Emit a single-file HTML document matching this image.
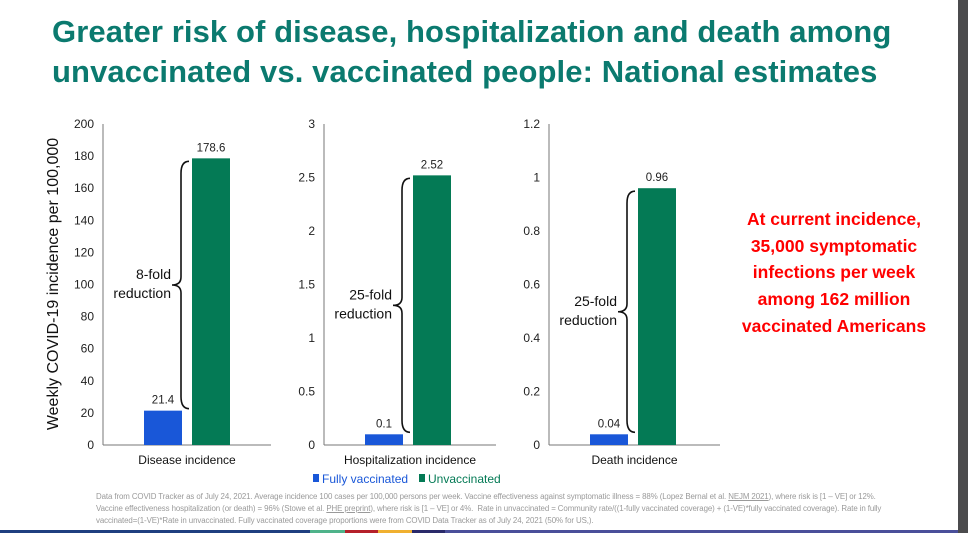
<!DOCTYPE html>
<html><head><meta charset="utf-8">
<style>
body{margin:0;background:#fff;}
#root{position:relative;width:968px;height:533px;overflow:hidden;background:#fff;font-family:"Liberation Sans",sans-serif;}
.title{position:absolute;left:52px;top:12px;color:#0b7a6f;font-weight:bold;font-size:31px;line-height:40px;letter-spacing:0.1px;}
.red{position:absolute;left:718px;top:206px;width:232px;text-align:center;color:#f00;font-weight:bold;font-size:17.5px;line-height:26.7px;}
.foot{position:absolute;left:96px;top:491px;width:800px;color:#9a9a9a;font-size:7.9px;line-height:12px;letter-spacing:-0.1px;}
.foot u{text-decoration:underline;}
</style></head><body>
<div id="root">
<div class="title">Greater risk of disease, hospitalization and death among<br>unvaccinated vs. vaccinated people: National estimates</div>
<div class="red">At current incidence,<br>35,000 symptomatic<br>infections per week<br>among 162 million<br>vaccinated Americans</div>
<svg id="chart" width="968" height="533" style="position:absolute;left:0;top:0"></svg>
<div class="foot">Data from COVID Tracker as of July 24, 2021. Average incidence 100 cases per 100,000 persons per week. Vaccine effectiveness against symptomatic illness = 88% (Lopez Bernal et al. <u>NEJM 2021</u>), where risk is [1 – VE] or 12%. Vaccine effectiveness hospitalization (or death) = 96% (Stowe et al. <u>PHE preprint</u>), where risk is [1 – VE] or 4%.&nbsp; Rate in unvaccinated = Community rate/((1-fully vaccinated coverage) + (1-VE)*fully vaccinated coverage). Rate in fully vaccinated=(1-VE)*Rate in unvaccinated. Fully vaccinated coverage proportions were from COVID Data Tracker as of July 24, 2021 (50% for US,).</div>
<div style="position:absolute;left:958px;top:0;width:10px;height:533px;background:#4b4b4d"></div>
<div style="position:absolute;left:0;top:530px;width:958px;height:3px;background:linear-gradient(to right,#1f3f80 0,#1f3f80 310px,#4fb38a 310px,#4fb38a 345px,#b5202a 345px,#b5202a 378px,#f0b030 378px,#f0b030 412px,#2a2a6a 412px,#2a2a6a 445px,#4a4f9a 445px)"></div>
</div>
<script>
const categories = ["Disease incidence","Hospitalization incidence","Death incidence"];
const vaccinated = [21.4, 0.1, 0.04];
const unvaccinated = [178.6, 2.52, 0.96];
const vaccLabels = ["21.4","0.1","0.04"];
const unvaccLabels = ["178.6","2.52","0.96"];
const axisMax = [200, 3, 1.2];
const tickLabels = [
  ["0","20","40","60","80","100","120","140","160","180","200"],
  ["0","0.5","1","1.5","2","2.5","3"],
  ["0","0.2","0.4","0.6","0.8","1","1.2"]
];
const reductionText = [["8-fold","reduction"],["25-fold","reduction"],["25-fold","reduction"]];

const NS="http://www.w3.org/2000/svg";
const svg=document.getElementById('chart');
function mk(tag,attrs,parent){const e=document.createElementNS(NS,tag);for(const k in attrs)e.setAttribute(k,attrs[k]);(parent||svg).appendChild(e);return e;}
const axisX=[103,324,549], axisEnd=[271,496,720];
const plotTop=124, plotBase=445;
const barW=38;
for(let i=0;i<3;i++){
  const g=mk('g',{});
  
  
  const y=v=>plotBase-(v/axisMax[i])*(plotBase-plotTop);
  const ax=axisX[i];
  const ya=mk('line',{x1:ax,y1:plotTop,x2:ax,y2:plotBase,stroke:'#777','stroke-width':1},g);
  
  
  const xa=mk('line',{x1:ax,y1:plotBase,x2:axisEnd[i],y2:plotBase,stroke:'#777','stroke-width':1},g);
  
  
  const n=tickLabels[i].length;
  tickLabels[i].forEach((t,k)=>{
    const v=axisMax[i]*k/(n-1);
    const tx=mk('text',{x:ax-9,y:y(v)+4,'text-anchor':'end','font-size':12,fill:'#222'},g);
    tx.textContent=t;
    
    
  });
  const bx=ax+41, gx=ax+89;
  const b=mk('rect',{x:bx,y:y(vaccinated[i]),width:barW,height:plotBase-y(vaccinated[i]),fill:'#1957d8'},g);
  
  
  const u=mk('rect',{x:gx,y:y(unvaccinated[i]),width:barW,height:plotBase-y(unvaccinated[i]),fill:'#047a55'},g);
  
  
  const l1=mk('text',{x:bx+barW/2,y:y(vaccinated[i])-7,'text-anchor':'middle','font-size':11.5,fill:'#222'},g);
  l1.textContent=vaccLabels[i];
  
  
  const l2=mk('text',{x:gx+barW/2,y:y(unvaccinated[i])-7,'text-anchor':'middle','font-size':11.5,fill:'#222'},g);
  l2.textContent=unvaccLabels[i];
  
  
  const c=mk('text',{x:(ax+axisEnd[i])/2,y:464,'text-anchor':'middle','font-size':12,fill:'#111'},g);
  c.textContent=categories[i];
  
  
  const b0=y(unvaccinated[i])+3, b1=Math.min(y(vaccinated[i]),plotBase-10)-2;
  const mid=(b0+b1)/2, x0=gx-3, x1=gx-11, x2=gx-20;
  const br=mk('path',{d:`M${x0},${b0} Q${x1},${b0} ${x1},${b0+12} L${x1},${mid-8} Q${x1},${mid} ${x2},${mid} Q${x1},${mid} ${x1},${mid+8} L${x1},${b1-12} Q${x1},${b1} ${x0},${b1}`,fill:'none',stroke:'#111','stroke-width':1.6},g);
  
  
  reductionText[i].forEach((s,k)=>{
    const r=mk('text',{x:x2-1,y:mid-6+k*19,'text-anchor':'end','font-size':14,fill:'#111'},g);
    r.textContent=s;
    
    
  });
}
const yt=mk('text',{x:0,y:0,transform:'translate(58,284) rotate(-90)','text-anchor':'middle','font-size':16,fill:'#111'});
yt.textContent='Weekly COVID-19 incidence per 100,000';


const lg=mk('g',{});


const sw1=mk('rect',{x:313,y:474,width:6,height:8,fill:'#1957d8'},lg);


const lt1=mk('text',{x:322,y:483,'font-size':12,fill:'#1957d8'},lg);
lt1.textContent='Fully vaccinated';


const sw2=mk('rect',{x:419,y:474,width:6,height:8,fill:'#047a55'},lg);


const lt2=mk('text',{x:428,y:483,'font-size':12,fill:'#047a55'},lg);
lt2.textContent='Unvaccinated';


</script>
</body></html>
